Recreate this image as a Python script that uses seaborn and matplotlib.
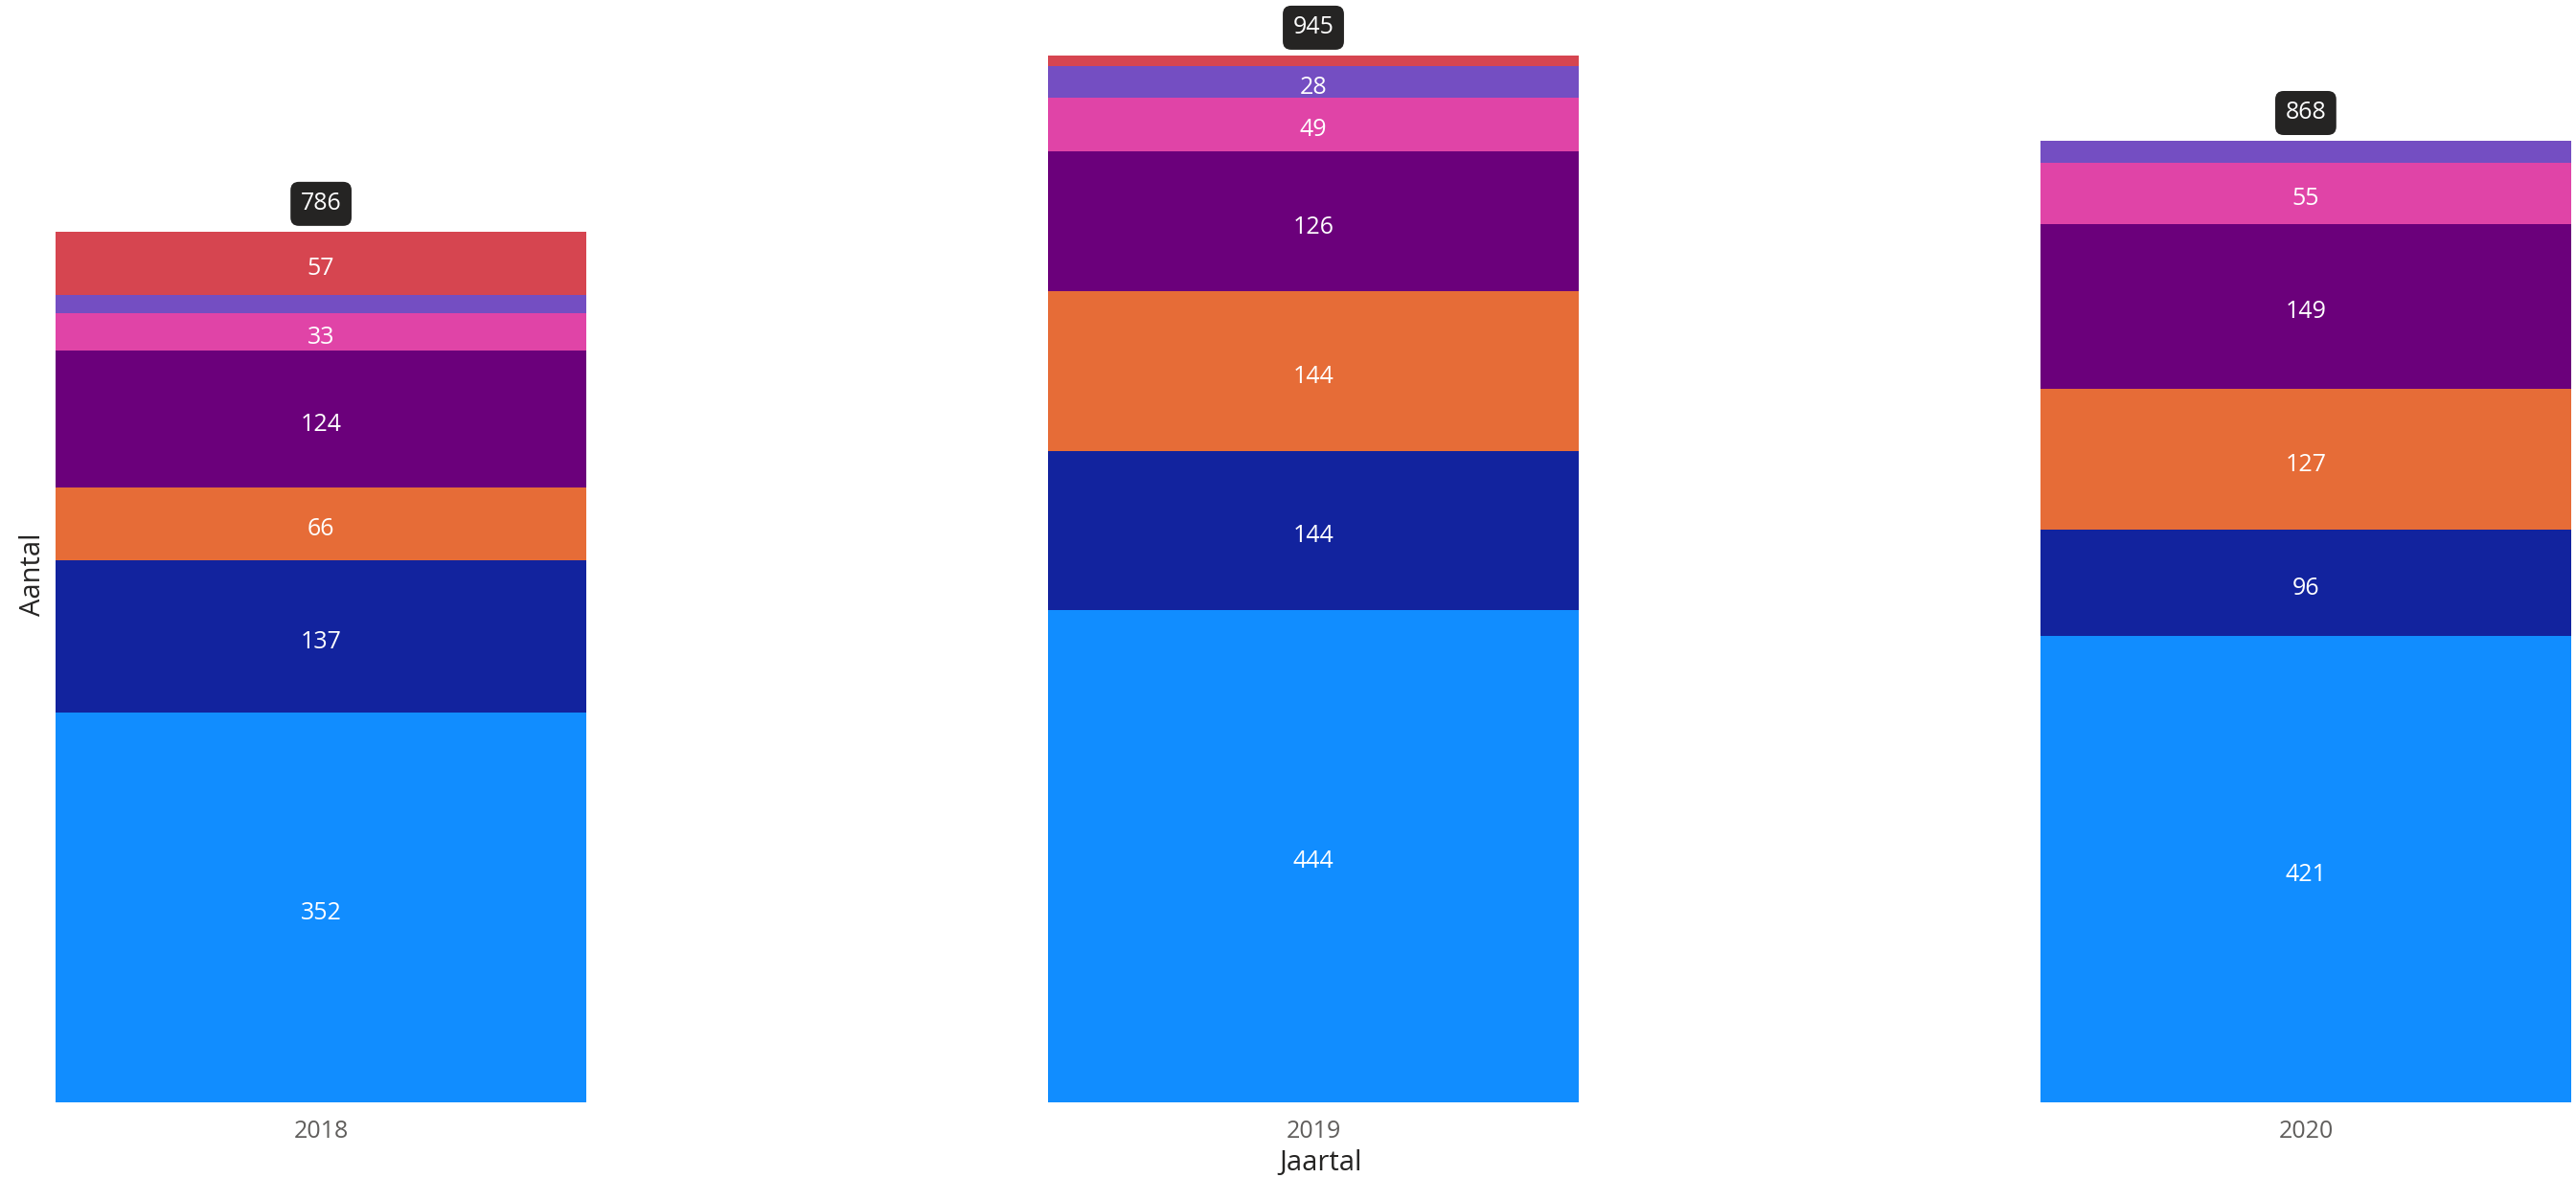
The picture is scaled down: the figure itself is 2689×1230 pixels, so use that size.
import numpy as np
import matplotlib
matplotlib.use("Agg")
import matplotlib.pyplot as plt
import seaborn as sns

# Data
years = ['2018', '2019', '2020']
series_names = ['Serie 1', 'Serie 2', 'Serie 3', 'Serie 4', 'Serie 5', 'Serie 6', 'Serie 7']
s1 = [352, 444, 421]
s2 = [137, 144, 96]
s3 = [66, 144, 127]
s4 = [124, 126, 149]
s5 = [33, 49, 55]
s6 = [17, 28, 20]
s7 = [57, 10, 0]
series_values = [s1, s2, s3, s4, s5, s6, s7]
colors = ['#118DFF', '#12239E', '#E66C37', '#6B007B', '#E044A7', '#744EC2', '#D64550']

sns.set_style("white")
plt.rcParams['font.family'] = ['Open Sans', 'DejaVu Sans']

W, H = 2689, 1230
fig = plt.figure(figsize=(W / 100, H / 100), dpi=100)
ax = fig.add_axes([58 / W, 1 - 1151 / H, (2684 - 58) / W, 1151 / H])

bar_w = 0.535
vals = np.array(series_values)
cum = np.cumsum(vals, axis=0)
totals = cum[-1]

# draw the cumulative layers from the top down so each one shows as a segment
for i in reversed(range(len(series_values))):
    sns.barplot(x=years, y=cum[i], color=colors[i], saturation=1, width=bar_w,
                errorbar=None, linewidth=0, ax=ax)

# segment labels (small segments stay unlabeled)
for j, yr in enumerate(years):
    bottom = 0
    for i in range(len(series_values)):
        v = vals[i, j]
        if v >= 25:
            ax.text(j, bottom + v / 2 - 5, str(v), ha='center', va='center',
                    color='white', fontsize=18)
        bottom += v
    ax.text(j, totals[j] + 25, str(totals[j]), ha='center', va='center',
            color='white', fontsize=18,
            bbox=dict(boxstyle='round,pad=0.42,rounding_size=0.35', fc='#252423', ec='none'))

ax.set_xlim(-bar_w / 2, 2 + bar_w / 2)
ax.set_ylim(0, 995)
ax.set_yticks([])
sns.despine(ax=ax, left=True, bottom=True)
ax.tick_params(axis='x', length=0, pad=13, labelsize=18, labelcolor='#605E5C')

ax.set_xlabel('Jaartal', fontsize=21, color='#252423')
ax.xaxis.set_label_coords(0.503, -0.055)
ax.xaxis.label.set_va('center')
ax.set_ylabel('Aantal', fontsize=21, color='#252423')
ax.yaxis.set_label_coords(-0.0091, 0.479)
ax.yaxis.label.set_va('center')

fig.savefig('out.png', dpi=100)
